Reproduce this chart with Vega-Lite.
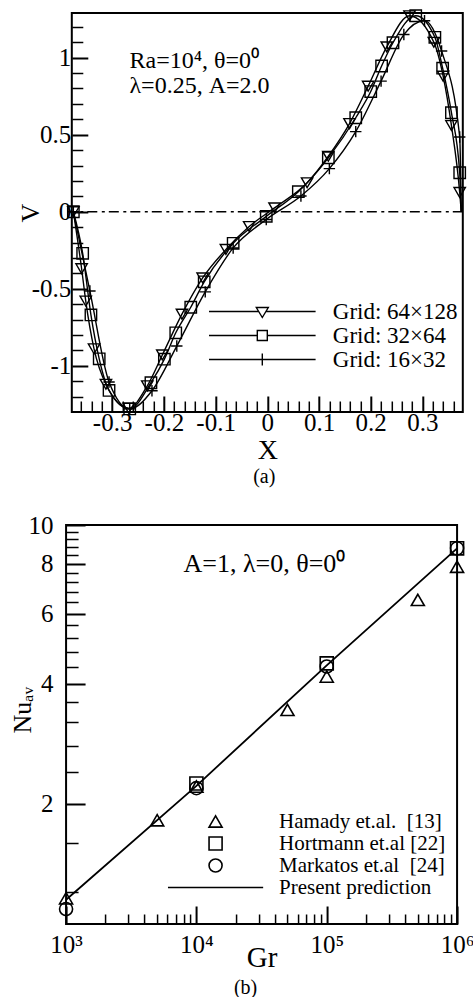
{
  "$schema": "https://vega.github.io/schema/vega-lite/v6.json",
  "background": "white",
  "padding": {"left": 8, "top": 6, "right": 0, "bottom": 0},
  "spacing": 24,
  "center": true,
  "config": {
    "font": "Liberation Serif",
    "view": {"stroke": "black", "strokeWidth": 2},
    "axis": {
      "domain": false, "grid": false,
      "tickColor": "black", "labelColor": "black", "titleColor": "black",
      "labelFont": "Liberation Serif", "titleFont": "Liberation Serif",
      "titleFontWeight": "normal", "labelFlush": false, "labelOverlap": false, "labelBound": false
    },
    "legend": {
      "title": null, "orient": "none", "padding": 0,
      "labelFont": "Liberation Serif", "labelColor": "black", "labelLimit": 0,
      "symbolStrokeColor": "black", "symbolFillColor": "transparent"
    },
    "title": {"font": "Liberation Serif", "fontWeight": "normal", "color": "black"}
  },
  "resolve": {"scale": {"shape": "independent"}, "legend": {"shape": "independent"}},
  "datasets": {
    "grid": [
      {"x": -0.375, "v": 0, "grid": "Grid: 64×128"},
      {"x": -0.359, "v": -0.37, "grid": "Grid: 64×128"},
      {"x": -0.351, "v": -0.58, "grid": "Grid: 64×128"},
      {"x": -0.335, "v": -0.89, "grid": "Grid: 64×128"},
      {"x": -0.312, "v": -1.12, "grid": "Grid: 64×128"},
      {"x": -0.268, "v": -1.275, "grid": "Grid: 64×128"},
      {"x": -0.232, "v": -1.13, "grid": "Grid: 64×128"},
      {"x": -0.203, "v": -0.93, "grid": "Grid: 64×128"},
      {"x": -0.165, "v": -0.665, "grid": "Grid: 64×128"},
      {"x": -0.125, "v": -0.43, "grid": "Grid: 64×128"},
      {"x": -0.08, "v": -0.245, "grid": "Grid: 64×128"},
      {"x": -0.035, "v": -0.096, "grid": "Grid: 64×128"},
      {"x": 0.014, "v": 0.025, "grid": "Grid: 64×128"},
      {"x": 0.077, "v": 0.188, "grid": "Grid: 64×128"},
      {"x": 0.118, "v": 0.36, "grid": "Grid: 64×128"},
      {"x": 0.159, "v": 0.572, "grid": "Grid: 64×128"},
      {"x": 0.195, "v": 0.815, "grid": "Grid: 64×128"},
      {"x": 0.231, "v": 1.07, "grid": "Grid: 64×128"},
      {"x": 0.275, "v": 1.272, "grid": "Grid: 64×128"},
      {"x": 0.322, "v": 1.1, "grid": "Grid: 64×128"},
      {"x": 0.34, "v": 0.88, "grid": "Grid: 64×128"},
      {"x": 0.356, "v": 0.56, "grid": "Grid: 64×128"},
      {"x": 0.372, "v": 0.125, "grid": "Grid: 64×128"},
      {"x": 0.375, "v": 0, "grid": "Grid: 64×128"},

      {"x": -0.375, "v": 0, "grid": "Grid: 32×64"},
      {"x": -0.357, "v": -0.27, "grid": "Grid: 32×64"},
      {"x": -0.341, "v": -0.67, "grid": "Grid: 32×64"},
      {"x": -0.325, "v": -0.955, "grid": "Grid: 32×64"},
      {"x": -0.306, "v": -1.16, "grid": "Grid: 32×64"},
      {"x": -0.266, "v": -1.28, "grid": "Grid: 32×64"},
      {"x": -0.225, "v": -1.11, "grid": "Grid: 32×64"},
      {"x": -0.199, "v": -0.957, "grid": "Grid: 32×64"},
      {"x": -0.177, "v": -0.786, "grid": "Grid: 32×64"},
      {"x": -0.148, "v": -0.62, "grid": "Grid: 32×64"},
      {"x": -0.122, "v": -0.455, "grid": "Grid: 32×64"},
      {"x": -0.066, "v": -0.205, "grid": "Grid: 32×64"},
      {"x": -0.002, "v": -0.03, "grid": "Grid: 32×64"},
      {"x": 0.06, "v": 0.13, "grid": "Grid: 32×64"},
      {"x": 0.118, "v": 0.35, "grid": "Grid: 32×64"},
      {"x": 0.171, "v": 0.61, "grid": "Grid: 32×64"},
      {"x": 0.2, "v": 0.78, "grid": "Grid: 32×64"},
      {"x": 0.221, "v": 0.946, "grid": "Grid: 32×64"},
      {"x": 0.243, "v": 1.097, "grid": "Grid: 32×64"},
      {"x": 0.287, "v": 1.272, "grid": "Grid: 32×64"},
      {"x": 0.324, "v": 1.132, "grid": "Grid: 32×64"},
      {"x": 0.339, "v": 0.932, "grid": "Grid: 32×64"},
      {"x": 0.356, "v": 0.643, "grid": "Grid: 32×64"},
      {"x": 0.372, "v": 0.253, "grid": "Grid: 32×64"},
      {"x": 0.375, "v": 0, "grid": "Grid: 32×64"},

      {"x": -0.375, "v": 0, "grid": "Grid: 16×32"},
      {"x": -0.343, "v": -0.515, "grid": "Grid: 16×32"},
      {"x": -0.306, "v": -1.105, "grid": "Grid: 16×32"},
      {"x": -0.266, "v": -1.28, "grid": "Grid: 16×32"},
      {"x": -0.223, "v": -1.162, "grid": "Grid: 16×32"},
      {"x": -0.175, "v": -0.872, "grid": "Grid: 16×32"},
      {"x": -0.12, "v": -0.52, "grid": "Grid: 16×32"},
      {"x": -0.066, "v": -0.235, "grid": "Grid: 16×32"},
      {"x": -0.002, "v": -0.05, "grid": "Grid: 16×32"},
      {"x": 0.065, "v": 0.102, "grid": "Grid: 16×32"},
      {"x": 0.12, "v": 0.28, "grid": "Grid: 16×32"},
      {"x": 0.171, "v": 0.52, "grid": "Grid: 16×32"},
      {"x": 0.22, "v": 0.848, "grid": "Grid: 16×32"},
      {"x": 0.264, "v": 1.15, "grid": "Grid: 16×32"},
      {"x": 0.304, "v": 1.24, "grid": "Grid: 16×32"},
      {"x": 0.337, "v": 1.043, "grid": "Grid: 16×32"},
      {"x": 0.372, "v": 0.485, "grid": "Grid: 16×32"},
      {"x": 0.375, "v": 0, "grid": "Grid: 16×32"}
    ],
    "nu": [
      {"gr": 1000, "nu": 1.16, "source": "Hamady et.al. \u00a0[13]"},
      {"gr": 5000, "nu": 1.82, "source": "Hamady et.al. \u00a0[13]"},
      {"gr": 10000, "nu": 2.21, "source": "Hamady et.al. \u00a0[13]"},
      {"gr": 50000, "nu": 3.44, "source": "Hamady et.al. \u00a0[13]"},
      {"gr": 100000, "nu": 4.17, "source": "Hamady et.al. \u00a0[13]"},
      {"gr": 500000, "nu": 6.49, "source": "Hamady et.al. \u00a0[13]"},
      {"gr": 1000000, "nu": 7.86, "source": "Hamady et.al. \u00a0[13]"},
      {"gr": 10000, "nu": 2.25, "source": "Hortmann et.al [22]"},
      {"gr": 100000, "nu": 4.5, "source": "Hortmann et.al [22]"},
      {"gr": 1000000, "nu": 8.74, "source": "Hortmann et.al [22]"},
      {"gr": 1000, "nu": 1.09, "source": "Markatos et.al \u00a0[24]"},
      {"gr": 10000, "nu": 2.19, "source": "Markatos et.al \u00a0[24]"},
      {"gr": 100000, "nu": 4.42, "source": "Markatos et.al \u00a0[24]"},
      {"gr": 1000000, "nu": 8.74, "source": "Markatos et.al \u00a0[24]"}
    ],
    "pred": [
      {"gr": 1000, "nu": 1.15},
      {"gr": 10000, "nu": 2.22},
      {"gr": 100000, "nu": 4.45},
      {"gr": 1000000, "nu": 8.74}
    ]
  },
  "vconcat": [
    {
      "width": 391,
      "height": 399,
      "title": {"text": "(a)", "orient": "bottom", "frame": "group", "anchor": "middle", "fontSize": 20, "offset": 3, "dx": -3},
      "layer": [
        {
          "data": {"values": [{}]},
          "mark": {"type": "rule", "color": "black", "strokeWidth": 1.4, "strokeDash": [10, 4, 3, 4.5]},
          "encoding": {"y": {"datum": 0, "type": "quantitative", "axis": null}}
        },
        {
          "data": {"name": "grid"},
          "mark": {"type": "line", "interpolate": "monotone", "color": "black", "strokeWidth": 1.4},
          "encoding": {
            "x": {
              "field": "x", "type": "quantitative",
              "scale": {"domain": [-0.378, 0.378], "nice": false, "zero": false},
              "axis": {
                "orient": "bottom",
                "values": [-0.3, -0.2, -0.1, 0, 0.1, 0.2, 0.3],
                "tickSize": -16, "tickWidth": 2,
                "labelFontSize": 25, "labelPadding": 14,
                "labelExpr": "replace(format(datum.value, '.1~f'), '−', '-')",
                "title": "X", "titleFontSize": 28, "titleY": 46, "titleBaseline": "alphabetic"
              }
            },
            "y": {
              "field": "v", "type": "quantitative",
              "scale": {"domain": [-1.3, 1.29], "nice": false, "zero": false},
              "axis": {
                "orient": "left",
                "values": [-1, -0.5, 0, 0.5, 1],
                "tickSize": -16, "tickWidth": 2,
                "labelFontSize": 25, "labelPadding": 17,
                "labelExpr": "replace(format(datum.value, '.1~f'), '−', '-')",
                "title": "V", "titleFontSize": 26, "titleAngle": 270,
                "titleX": -33.7, "titleBaseline": "alphabetic", "titleAlign": "center"
              }
            },
            "detail": {"field": "grid"}
          }
        },
        {
          "data": {"name": "grid"},
          "transform": [{"filter": "datum.x < 0.374"}],
          "mark": {"type": "point", "filled": false, "color": "black", "strokeWidth": 1.4, "size": 130, "opacity": 1},
          "encoding": {
            "x": {
              "field": "x", "type": "quantitative",
              "axis": {
                "orient": "bottom",
                "values": [-0.36, -0.34, -0.32, -0.28, -0.26, -0.24, -0.22, -0.18, -0.16, -0.14, -0.12, -0.08, -0.06, -0.04, -0.02, 0.02, 0.04, 0.06, 0.08, 0.12, 0.14, 0.16, 0.18, 0.22, 0.24, 0.26, 0.28, 0.32, 0.34, 0.36],
                "tickSize": -11, "tickWidth": 1.5, "labels": false, "title": null
              }
            },
            "y": {
              "field": "v", "type": "quantitative",
              "axis": {
                "orient": "left",
                "values": [-1.2, -1.1, -0.9, -0.8, -0.7, -0.6, -0.4, -0.3, -0.2, -0.1, 0.1, 0.2, 0.3, 0.4, 0.6, 0.7, 0.8, 0.9, 1.1, 1.2],
                "tickSize": -11, "tickWidth": 1.5, "labels": false, "title": null
              }
            },
            "shape": {
              "field": "grid", "type": "nominal",
              "scale": {
                "domain": ["Grid: 64×128", "Grid: 32×64", "Grid: 16×32"],
                "range": ["triangle-down", "square", "M-1,0H1M0,-1V1"]
              },
              "legend": null
            }
          }
        },
        {
          "data": {"name": "grid"},
          "transform": [{"filter": "false"}],
          "mark": {"type": "point", "filled": false, "color": "black", "strokeWidth": 1.4, "opacity": 1},
          "encoding": {
            "x": {"field": "x", "type": "quantitative", "axis": null},
            "y": {"field": "v", "type": "quantitative", "axis": null},
            "shape": {
              "field": "grid", "type": "nominal",
              "scale": {
                "domain": ["Grid: 64×128", "Grid: 32×64", "Grid: 16×32"],
                "range": [
                  "M-5.33,0H-0.36M0.36,0H5.33M-0.6,-0.4L0.6,-0.4L0,0.6Z",
                  "M-5.33,0H-0.5M0.5,0H5.33M-0.5,-0.5H0.5V0.5H-0.5Z",
                  "M-5.33,0H5.33M0,-0.6V0.6"
                ]
              },
              "legend": {
                "legendX": 179, "legendY": 287,
                "labelFontSize": 23, "labelOffset": 59,
                "symbolSize": 400, "symbolStrokeWidth": 1.4, "rowPadding": 0
              }
            }
          }
        },
        {
          "data": {"values": [{}]},
          "mark": {"type": "text", "align": "left", "baseline": "alphabetic", "fontSize": 24, "lineHeight": 25, "color": "black", "font": "Liberation Serif"},
          "encoding": {
            "x": {"datum": -0.2665, "type": "quantitative", "axis": null},
            "y": {"datum": 0.935, "type": "quantitative", "axis": null},
            "text": {"value": ["Ra=10⁴, θ=0⁰", "λ=0.25, A=2.0"]}
          }
        }
      ],
      "resolve": {"axis": {"x": "independent", "y": "independent"}, "scale": {"shape": "independent"}}
    },
    {
      "width": 391,
      "height": 399,
      "title": {"text": "(b)", "orient": "bottom", "frame": "group", "anchor": "middle", "fontSize": 20, "offset": 6, "dx": -16},
      "layer": [
        {
          "data": {"name": "pred"},
          "mark": {"type": "line", "color": "black", "strokeWidth": 1.8},
          "encoding": {
            "x": {
              "field": "gr", "type": "quantitative",
              "scale": {"type": "log", "domain": [1000, 1000000], "nice": false},
              "axis": {
                "orient": "bottom",
                "values": [1000, 10000, 100000, 1000000],
                "tickSize": -18, "tickWidth": 2,
                "labelFontSize": 25, "labelPadding": 26,
                "labelExpr": "'10' + (datum.value < 5000 ? '³' : datum.value < 50000 ? '⁴' : datum.value < 500000 ? '⁵' : '⁶')",
                "title": "Gr", "titleFontSize": 29, "titleY": 42, "titleBaseline": "alphabetic"
              }
            },
            "y": {
              "field": "nu", "type": "quantitative",
              "scale": {"type": "log", "domain": [1, 10], "nice": false},
              "axis": {
                "orient": "left",
                "values": [2, 4, 6, 8, 10],
                "format": "d",
                "tickSize": -19, "tickWidth": 2,
                "labelFontSize": 25, "labelPadding": 32,
                "title": "Nuₐᵥ", "titleFontSize": 26, "titleAngle": 270,
                "titleX": -36, "titleY": 208, "titleAlign": "left", "titleBaseline": "alphabetic"
              }
            }
          }
        },
        {
          "data": {"name": "nu"},
          "mark": {"type": "point", "filled": false, "color": "black", "strokeWidth": 1.6, "size": 170, "opacity": 1},
          "encoding": {
            "x": {
              "field": "gr", "type": "quantitative",
              "axis": {
                "orient": "bottom",
                "values": [2000, 3000, 4000, 5000, 6000, 7000, 8000, 9000, 20000, 30000, 40000, 50000, 60000, 70000, 80000, 90000, 200000, 300000, 400000, 500000, 600000, 700000, 800000, 900000],
                "tickSize": -10, "tickWidth": 1.5, "labels": false, "title": null
              }
            },
            "y": {
              "field": "nu", "type": "quantitative",
              "axis": {
                "orient": "left",
                "values": [1.2, 1.6, 2.4, 2.8, 3.2, 3.6, 4.4, 4.8, 5.2, 5.6, 6.4, 6.8, 7.2, 7.6, 8.4, 8.8, 9.2, 9.6],
                "tickSize": -12, "tickWidth": 1.5, "labels": false, "title": null
              }
            },
            "shape": {
              "field": "source", "type": "nominal",
              "scale": {
                "domain": ["Hamady et.al. \u00a0[13]", "Hortmann et.al [22]", "Markatos et.al \u00a0[24]", "Present prediction"],
                "range": ["triangle-up", "square", "circle", "M-7.3,0H7.3"]
              },
              "legend": {
                "legendX": 139, "legendY": 286,
                "labelFontSize": 21, "labelOffset": 53,
                "symbolSize": 170, "symbolStrokeWidth": 1.6, "rowPadding": 0,
                "encode": {
                  "symbols": {
                    "update": {
                      "fill": {"value": "transparent"},
                      "stroke": {"value": "black"},
                      "strokeWidth": {"signal": "datum.value === 'Present prediction' ? 2 : 1.6"}
                    }
                  }
                }
              }
            }
          }
        },
        {
          "data": {"values": [{}]},
          "mark": {"type": "text", "align": "left", "baseline": "alphabetic", "fontSize": 26, "color": "black", "font": "Liberation Serif"},
          "encoding": {
            "x": {"datum": 7958, "type": "quantitative", "axis": null},
            "y": {"datum": 7.64, "type": "quantitative", "axis": null},
            "text": {"value": "A=1, λ=0, θ=0⁰"}
          }
        }
      ],
      "resolve": {"axis": {"x": "independent", "y": "independent"}}
    }
  ]
}
